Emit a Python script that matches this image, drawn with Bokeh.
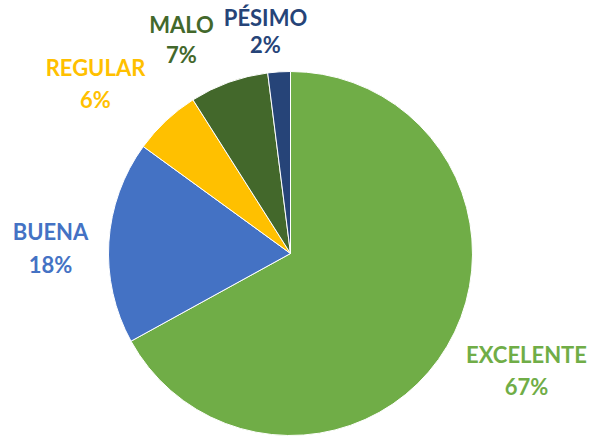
import math
from bokeh.plotting import figure
from bokeh.models import ColumnDataSource, Range1d
from bokeh.core.properties import value
from bokeh.embed import file_html
from bokeh.resources import INLINE

categories = ["EXCELENTE", "BUENA", "REGULAR", "MALO", "PÉSIMO"]
percents = [67, 18, 6, 7, 2]
colors = ["#70AD47", "#4472C4", "#FFC000", "#43682B", "#264478"]

W, H = 591, 438

def X(xr):
    return xr

def Y(yr):
    return H - yr

# label anchor positions (reference pixel coords): name center, pct center
label_pos = {
    "EXCELENTE": (526, 354, 386),
    "BUENA": (50, 231, 264),
    "REGULAR": (95, 67, 99),
    "MALO": (181, 24, 54),
    "PÉSIMO": (265, 17, 44),
}

total = float(sum(percents))
starts, ends = [], []
cum = 0.0
for v in percents:
    starts.append(math.pi / 2 - 2 * math.pi * cum / total)
    cum += v
    ends.append(math.pi / 2 - 2 * math.pi * cum / total)

src = ColumnDataSource(dict(start=starts, end=ends, color=colors,
                            x=[X(290)] * len(percents), y=[Y(253)] * len(percents)))

p = figure(width=W, height=H, output_backend="svg", toolbar_location=None,
           x_range=Range1d(0, W), y_range=Range1d(0, H), min_border=0)
p.axis.visible = False
p.grid.visible = False
p.outline_line_color = None
p.background_fill_color = "white"
p.border_fill_color = "white"

p.wedge(x="x", y="y", radius=182, radius_units="screen", start_angle="start", end_angle="end",
        direction="clock", fill_color="color", line_color="white", line_width=1, source=src)

lx, ly1, ly2, names, pcts = [], [], [], [], []
for c, v in zip(categories, percents):
    a, b, d = label_pos[c]
    lx.append(X(a)); ly1.append(Y(b)); ly2.append(Y(d))
    names.append(c); pcts.append(f"{v}%")

lsrc = ColumnDataSource(dict(x=lx, y1=ly1, y2=ly2, name=names, pct=pcts, color=colors))
for ycol, tcol in (("y1", "name"), ("y2", "pct")):
    p.text(x="x", y=ycol, text=tcol, source=lsrc, text_color="color",
           text_font=value("Lato"), text_font_style="bold", text_font_size="22px",
           text_align="center", text_baseline="middle")

open("out.html", "w").write(file_html(p, INLINE))
